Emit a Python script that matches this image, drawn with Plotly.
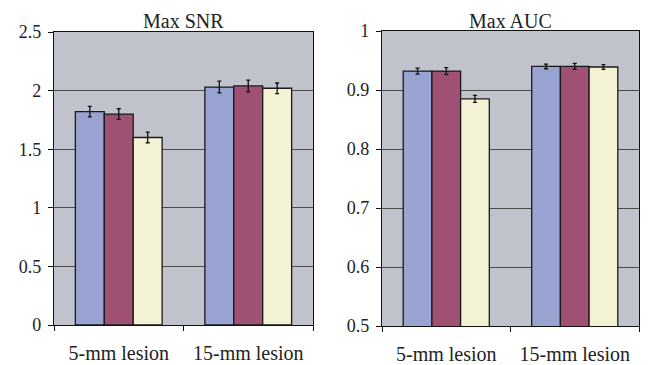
import plotly.graph_objects as go
from plotly.subplots import make_subplots

categories = ["5-mm lesion", "15-mm lesion"]
series_names = ["Method A", "Method B", "Method C"]
colors = ["#99A3D1", "#A05173", "#F3F2D4"]

snr_values = [[1.82, 2.03], [1.80, 2.04], [1.60, 2.02]]
snr_errors = [[0.045, 0.05], [0.045, 0.05], [0.045, 0.045]]

auc_values = [[0.932, 0.940], [0.932, 0.940], [0.885, 0.939]]
auc_errors = [[0.005, 0.004], [0.006, 0.005], [0.006, 0.004]]

snr_ticks = [0, 0.5, 1, 1.5, 2, 2.5]
snr_ticklabels = ["0", "0.5", "1", "1.5", "2", "2.5"]
auc_ticks = [0.5, 0.6, 0.7, 0.8, 0.9, 1.0]
auc_ticklabels = ["0.5", "0.6", "0.7", "0.8", "0.9", "1"]

FONT = "Liberation Serif, Times New Roman, serif"
W, H = 640, 357

fig = make_subplots(rows=1, cols=2)

for i in range(3):
    fig.add_trace(go.Bar(
        x=categories, y=snr_values[i], name=series_names[i],
        marker=dict(color=colors[i], line=dict(color="#1a1a1a", width=1.3)),
        error_y=dict(type="data", array=snr_errors[i], color="#111111", thickness=1.3, width=2),
        showlegend=False), row=1, col=1)
    fig.add_trace(go.Bar(
        x=categories, y=auc_values[i], name=series_names[i],
        marker=dict(color=colors[i], line=dict(color="#1a1a1a", width=1.3)),
        error_y=dict(type="data", array=auc_errors[i], color="#111111", thickness=1.3, width=2),
        showlegend=False), row=1, col=2)

common_x = dict(showline=True, linecolor="#111111", linewidth=1.3, mirror=True,
                ticks="outside", ticklen=5, tickcolor="#111111", tickson="boundaries",
                showgrid=False, automargin=False, ticklabelstandoff=10,
                tickfont=dict(family=FONT, size=20, color="#222222"))
common_y = dict(showline=True, linecolor="#111111", linewidth=1.3, mirror=True,
                ticks="outside", ticklen=5, tickcolor="#111111",
                showgrid=True, gridcolor="#4a4a4a", gridwidth=1, zeroline=False,
                automargin=False, ticklabelstandoff=3,
                tickfont=dict(family=FONT, size=18, color="#222222"))

fig.update_xaxes(**common_x)
fig.update_yaxes(**common_y)

x1 = [46 / W, 305 / W]
x2 = [374 / W, 631 / W]
y1 = [(H - 317) / H, (H - 24) / H]
y2 = [(H - 318) / H, (H - 23) / H]

fig.update_layout(
    xaxis=dict(domain=x1),
    xaxis2=dict(domain=x2),
    yaxis=dict(domain=y1, range=[0, 2.5], tickvals=snr_ticks, ticktext=snr_ticklabels),
    yaxis2=dict(domain=y2, range=[0.5, 1.0], tickvals=auc_ticks, ticktext=auc_ticklabels),
    barmode="group", bargap=0.33, bargroupgap=0,
    plot_bgcolor="#C0C3CB", paper_bgcolor="white",
    width=W, height=H, margin=dict(l=0, r=0, t=0, b=0, autoexpand=False),
    font=dict(family=FONT, color="#222222"),
    annotations=[
        dict(text="Max SNR", x=sum(x1) / 2, y=1.0, xref="paper", yref="paper",
             showarrow=False, font=dict(family=FONT, size=20, color="#222222"),
             xanchor="center", yanchor="top"),
        dict(text="Max AUC", x=sum(x2) / 2, y=1.0, xref="paper", yref="paper",
             showarrow=False, font=dict(family=FONT, size=20, color="#222222"),
             xanchor="center", yanchor="top"),
    ],
)

fig.write_html("out.html")
